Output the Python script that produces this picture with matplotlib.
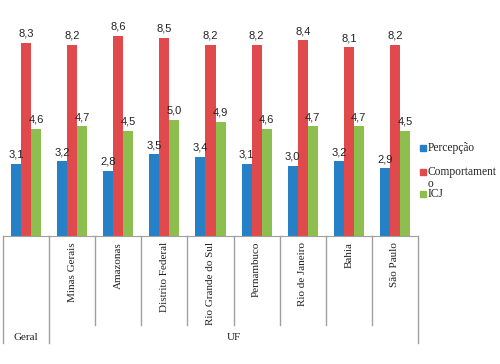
import matplotlib
matplotlib.use("Agg")
import matplotlib.pyplot as plt
import numpy as np
from matplotlib.patches import Rectangle

categories = ["", "Minas Gerais", "Amazonas", "Distrito Federal", "Rio Grande do Sul",
              "Pernambuco", "Rio de Janeiro", "Bahia", "São Paulo"]
percepcao = [3.1, 3.2, 2.8, 3.5, 3.4, 3.1, 3.0, 3.2, 2.9]
comportamento = [8.3, 8.2, 8.6, 8.5, 8.2, 8.2, 8.4, 8.1, 8.2]
icj = [4.6, 4.7, 4.5, 5.0, 4.9, 4.6, 4.7, 4.7, 4.5]
series_names = ["Percepção", "Comportament\no", "ICJ"]
colors = ["#2580C6", "#E04A4C", "#8CBF4E"]

W, H = 500, 364
fig = plt.figure(figsize=(5, 3.64), dpi=100)
ax = fig.add_axes([3 / W, 1 - 236 / H, (418 - 3) / W, 233 / H])

x = np.arange(len(categories))
bw = 10 / 46.1
series = [percepcao, comportamento, icj]
for i, (vals, c) in enumerate(zip(series, colors)):
    bars = ax.bar(x + (i - 1) * bw, vals, width=bw, color=c, zorder=2)
    ax.bar_label(bars, labels=[f"{v:.1f}".replace(".", ",") for v in vals],
                 padding=3, fontsize=8, family="Liberation Sans", color="#222222")

ax.set_xlim(-0.5, len(categories) - 0.5)
ax.set_ylim(0, 10)
for s in ["top", "right", "left"]:
    ax.spines[s].set_visible(False)
ax.spines["bottom"].set_color("#A0A0A0")
ax.set_xticks([])
ax.set_yticks([])

# category area lines
tr = ax.get_xaxis_transform()
inner_bottom = (236 - 325) / 233
outer_bottom = (236 - 343) / 233
for b in range(len(categories) + 1):
    xb = b - 0.5
    yb = outer_bottom if b in (0, 1, len(categories)) else inner_bottom
    ax.plot([xb, xb], [0, yb], color="#A0A0A0", lw=1, transform=tr, clip_on=False)

for i, name in enumerate(categories):
    if name:
        ax.text(i, (236 - 242) / 233, name, rotation=90, ha="center", va="top",
                transform=tr, fontsize=8, family="Liberation Serif", color="#222222")

ax.text(0, (236 - 337) / 233, "Geral", ha="center", va="center", transform=tr,
        fontsize=8, family="Liberation Serif", color="#222222")
ax.text((len(categories)) / 2, (236 - 337) / 233, "UF",
        ha="center", va="center", transform=tr,
        fontsize=8, family="Liberation Serif", color="#222222")

# legend
leg_y = [148, 172, 194]
for name, c, yy in zip(series_names, colors, leg_y):
    fig.patches.append(Rectangle((420 / W, 1 - (yy + 3) / H), 6 / W, 6 / H,
                                 transform=fig.transFigure, color=c))
    fig.text(428 / W, 1 - (yy - 6) / H, name, va="top", ha="left",
             fontsize=8.3, family="Liberation Serif", color="#222222", linespacing=0.95)

fig.savefig("out.png", dpi=100)
